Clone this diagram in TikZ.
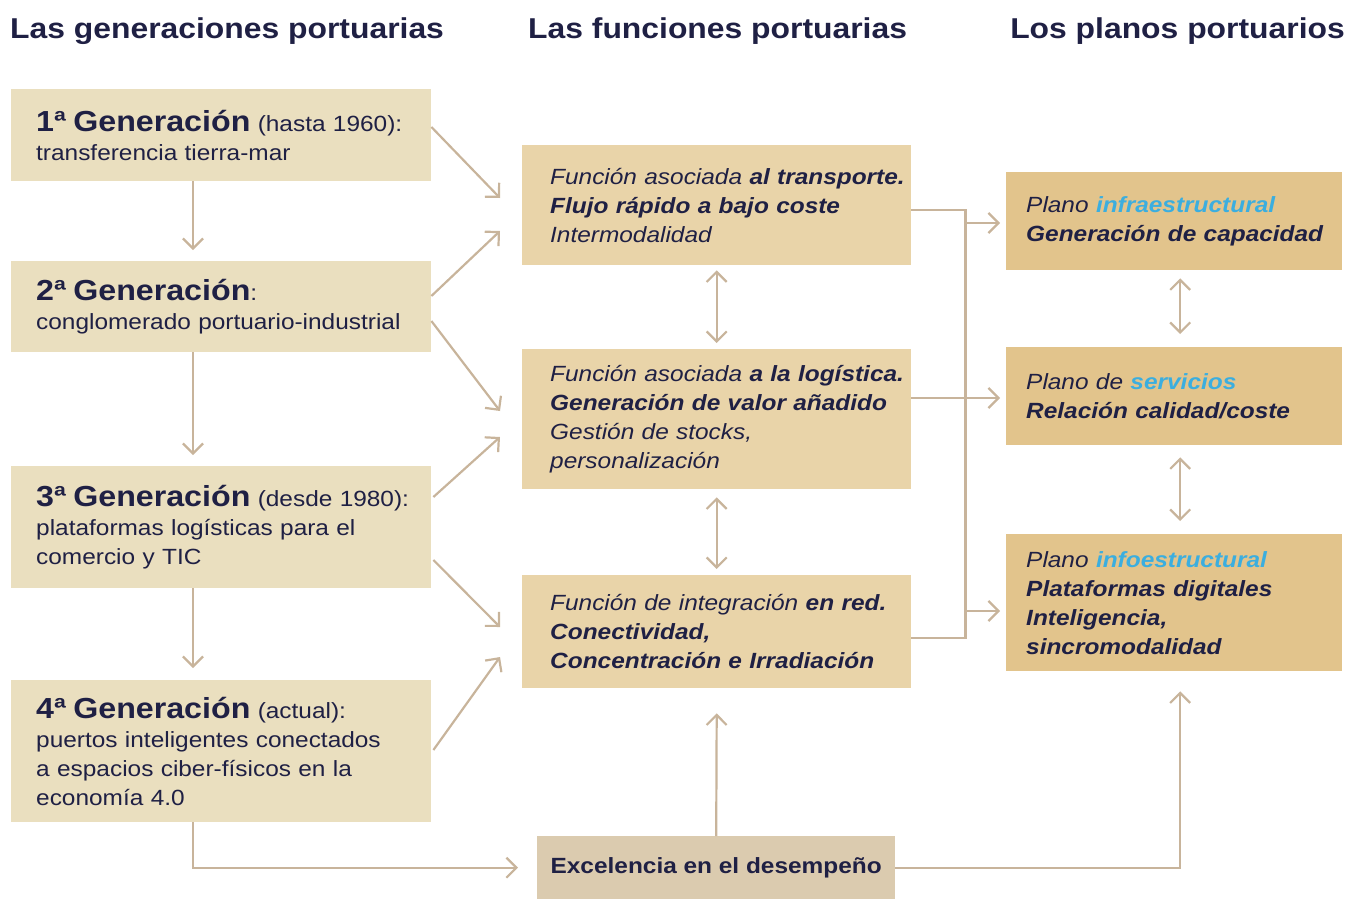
\documentclass[tikz,border=0pt]{standalone}
\usepackage{fontspec}
\setmainfont{Liberation Sans}[FakeStretch=1.11]
\usetikzlibrary{arrows.meta}
\definecolor{genfill}{HTML}{EADFBF}
\definecolor{funfill}{HTML}{E9D4A9}
\definecolor{planfill}{HTML}{E2C48C}
\definecolor{excfill}{HTML}{DBCBAF}
\definecolor{arrowcol}{HTML}{C8B49B}
\definecolor{navy}{HTML}{1F2044}
\definecolor{bluet}{HTML}{3BAEDF}
\newcommand{\myBodyFont}{\fontsize{22}{29}\selectfont}
\newcommand{\myGenBig}[1]{{\fontsize{29}{29}\selectfont\bfseries #1}}
\newcommand{\myHl}[1]{\textbf{\color{bluet}#1}}
\begin{document}
\begin{tikzpicture}[x=1pt,y=-1pt,
  every node/.style={text=navy},
  box/.style={anchor=north west, align=left, inner ysep=0pt},
  gen/.style={box, fill=genfill, text width=370pt, inner xsep=25pt, font=\myBodyFont},
  fun/.style={box, fill=funfill, text width=333pt, inner xsep=28pt, font=\myBodyFont\itshape},
  plan/.style={box, fill=planfill, text width=296pt, inner xsep=20pt, font=\myBodyFont\itshape},
  title/.style={font=\fontsize{28.7}{32}\selectfont\bfseries, inner sep=0pt},
  arr/.style={draw=arrowcol, line width=2.2pt, -{Straight Barb[length=10pt,width=20pt,line width=2.2pt]}},
  dbl/.style={draw=arrowcol, line width=2.2pt, {Straight Barb[length=10pt,width=20pt,line width=2.2pt]}-{Straight Barb[length=10pt,width=20pt,line width=2.2pt]}},
  ln/.style={draw=arrowcol, line width=2.2pt}]
\useasboundingbox (0,0) rectangle (1349,900);

% titles
\node[title, anchor=base west] (t1) at (10,38) {Las generaciones portuarias};
\node[title, anchor=base west] (t2) at (528,38) {Las funciones portuarias};
\node[title, anchor=base east] (t3) at (1345,38) {Los planos portuarios};

% generation boxes
\node[gen, minimum height=92pt] (g1) at (11,89) {\mbox{\myGenBig{1ª Generación} (hasta 1960):}\\\mbox{transferencia tierra-mar}};
\node[gen, minimum height=91pt] (g2) at (11,261) {\mbox{\myGenBig{2ª Generación}:}\\\mbox{conglomerado portuario-industrial}};
\node[gen, minimum height=122pt] (g3) at (11,466) {\mbox{\myGenBig{3ª Generación} (desde 1980):}\\\mbox{plataformas logísticas para el}\\\mbox{comercio y TIC}};
\node[gen, minimum height=142pt] (g4) at (11,680) {\mbox{\myGenBig{4ª Generación} (actual):}\\\mbox{puertos inteligentes conectados}\\\mbox{a espacios ciber-físicos en la}\\\mbox{economía 4.0}};

% function boxes
\node[fun, minimum height=120pt] (f1) at (522,145) {\mbox{Función asociada \textbf{al transporte.}}\\\textbf{Flujo rápido a bajo coste}\\Intermodalidad};
\node[fun, minimum height=140pt] (f2) at (522,349) {\mbox{Función asociada \textbf{a la logística.}}\\\mbox{\textbf{Generación de valor añadido}}\\Gestión de stocks,\\personalización};
\node[fun, minimum height=113pt] (f3) at (522,575) {\mbox{Función de integración \textbf{en red.}}\\\textbf{Conectividad,}\\\mbox{\textbf{Concentración e Irradiación}}};

% plano boxes
\node[plan, minimum height=98pt] (p1) at (1006,172) {Plano \myHl{infraestructural}\\\mbox{\textbf{Generación de capacidad}}};
\node[plan, minimum height=98pt] (p2) at (1006,347) {Plano de \myHl{servicios}\\\textbf{Relación calidad/coste}};
\node[plan, minimum height=137pt] (p3) at (1006,534) {Plano \myHl{infoestructural}\\\textbf{Plataformas digitales}\\\textbf{Inteligencia,}\\\textbf{sincromodalidad}};

% excellence box
\node[anchor=north west, fill=excfill, minimum width=358pt, minimum height=63pt, inner sep=0pt,
  font=\fontsize{22}{26}\selectfont\bfseries] (exc) at (537,836) {Excelencia en el desempeño};

% vertical generation arrows
\draw[arr] ([xshift=182pt]g1.south west) -- ([xshift=182pt,yshift=11pt]g2.north west);
\draw[arr] ([xshift=182pt]g2.south west) -- ([xshift=182pt,yshift=11pt]g3.north west);
\draw[arr] ([xshift=182pt]g3.south west) -- ([xshift=182pt,yshift=12pt]g4.north west);

% generation -> function arrows
\draw[arr] ([yshift=-38pt]g1.north east) -- ([xshift=-22pt,yshift=-53pt]f1.north west);
\draw[arr] ([yshift=-35pt]g2.north east) -- ([xshift=-22pt,yshift=-86pt]f1.north west);
\draw[arr] ([yshift=-60pt]g2.north east) -- ([xshift=-22pt,yshift=-62pt]f2.north west);
\draw[arr] ([xshift=2pt,yshift=-31pt]g3.north east) -- ([xshift=-22pt,yshift=-88pt]f2.north west);
\draw[arr] ([xshift=2pt,yshift=-94pt]g3.north east) -- ([xshift=-22pt,yshift=-52pt]f3.north west);
\draw[arr] ([xshift=2pt,yshift=-70pt]g4.north east) -- ([xshift=-22pt,yshift=-82pt]f3.north west);

% function double arrows
\draw[dbl] ([yshift=-5pt]f1.south) -- ([yshift=6pt]f2.north);
\draw[dbl] ([yshift=-8pt]f2.south) -- ([yshift=6pt]f3.north);

% plano double arrows
\draw[dbl] ([xshift=6pt,yshift=-8pt]p1.south) -- ([xshift=6pt,yshift=13pt]p2.north);
\draw[dbl] ([xshift=6pt,yshift=-12pt]p2.south) -- ([xshift=6pt,yshift=13pt]p3.north);

% function -> plano connectors
\draw[ln] ([yshift=-65pt]f1.north east) -- ++(54,0) |- ([yshift=-63pt]f3.north east);
\draw[arr] ([xshift=-41pt,yshift=-51pt]p1.north west) -- ([xshift=-6pt,yshift=-51pt]p1.north west);
\draw[arr] ([xshift=-41pt,yshift=-77pt]p3.north west) -- ([xshift=-6pt,yshift=-77pt]p3.north west);
\coordinate (f2o) at ([yshift=-49pt]f2.north east);
\draw[arr, shorten >=6pt] (f2o) -- (f2o -| p2.west);

% excellence connectors
\draw[arr] ([xshift=182pt]g4.south west) |- ([xshift=-19pt]exc.west);
\draw[arr] (exc.north) -- ([yshift=-25pt]f3.south);
\draw[arr] (exc.east) -| ([xshift=6pt,yshift=-20pt]p3.south);
\end{tikzpicture}
\end{document}
